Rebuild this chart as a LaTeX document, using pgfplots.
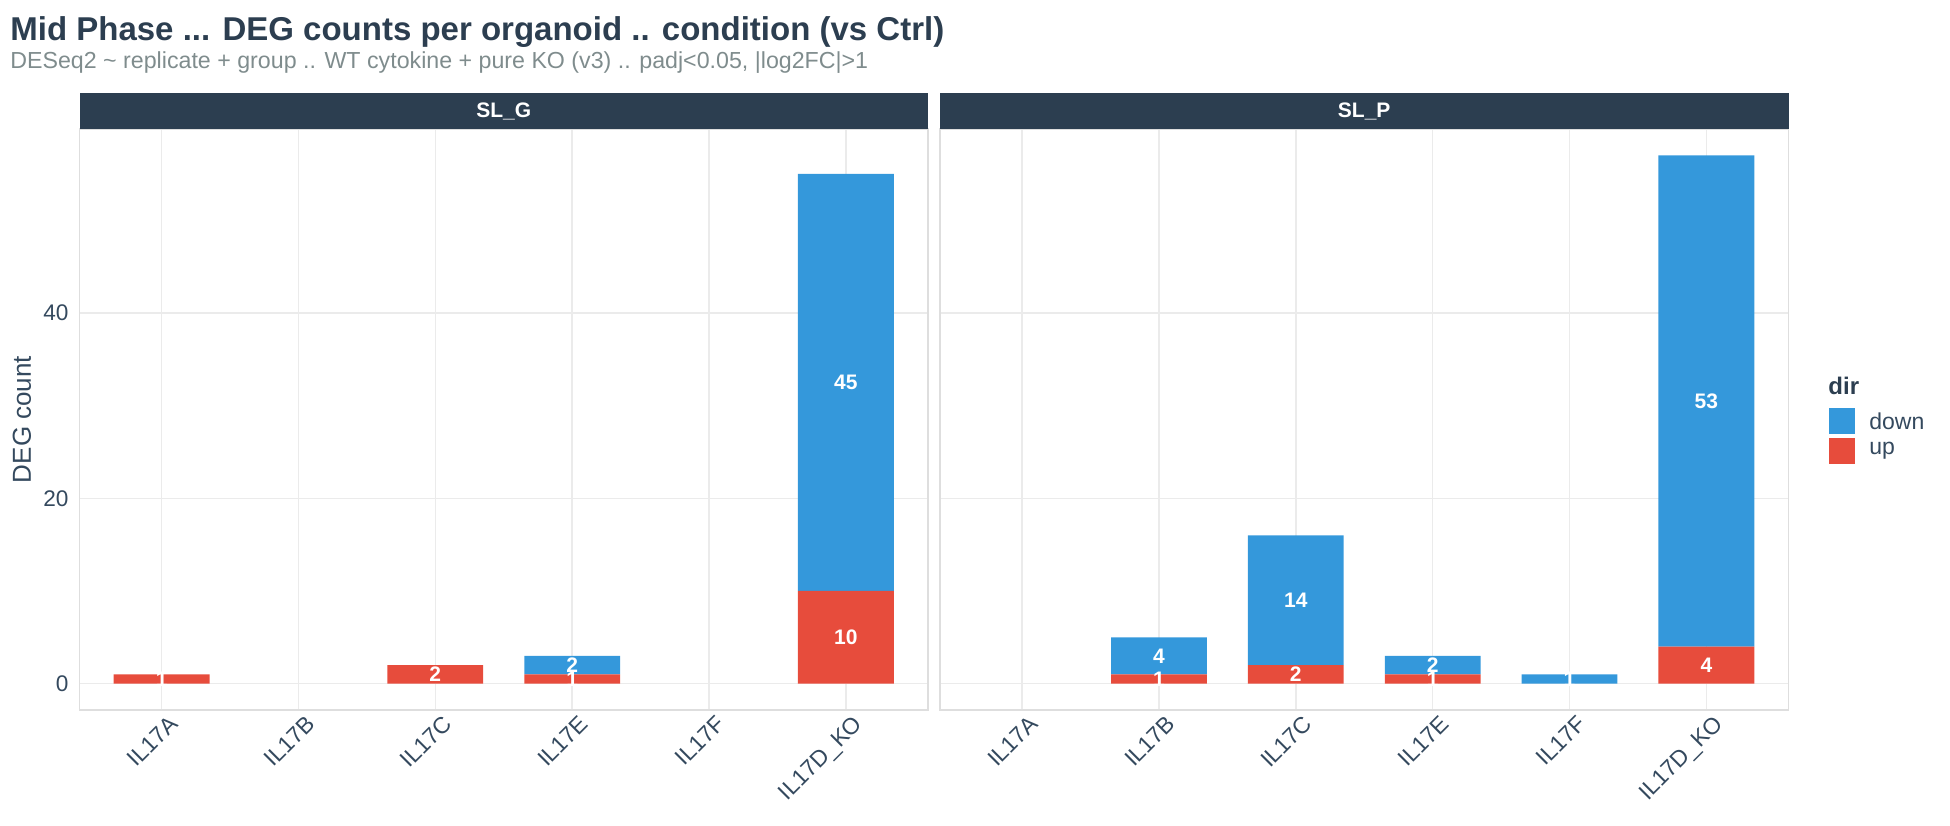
\documentclass[border=0pt]{standalone}
\usepackage{pgfplots}
\pgfplotsset{compat=1.18}
\usepackage{fontspec}
\setmainfont{Liberation Sans}
\definecolor{navy}{HTML}{2C3E50}
\definecolor{tickc}{HTML}{34495E}
\definecolor{ublue}{HTML}{3498DB}
\definecolor{ured}{HTML}{E74C3C}
\definecolor{subgray}{HTML}{7F8C8D}
\definecolor{gridc}{HTML}{EBEBEB}
\definecolor{borderc}{HTML}{DEDEDE}

\pgfplotstableread{
x up down
0 1 0
1 0 0
2 2 0
3 1 2
4 0 0
5 10 45
}\slg
\pgfplotstableread{
x up down
0 0 0
1 1 4
2 2 14
3 1 2
4 0 1
5 4 53
}\slp
\pgfplotstableread{
x y lab
0 0.5 1
2 1 2
3 0.5 1
3 2 2
5 5 10
5 32.5 45
}\slglab
\pgfplotstableread{
x y lab
1 0.5 1
1 3 4
2 1 2
2 9 14
3 0.5 1
3 2 2
4 0.5 1
5 2 4
5 30.5 53
}\slplab

\pgfplotsset{
  panel/.style={
    scale only axis, width=424.25pt, height=290.5pt,
    xmin=-0.6, xmax=5.6, ymin=-2.85, ymax=59.85,
    anchor=south west,
  },
  barpanel/.style={
    panel,
    ybar stacked, bar width=0.7,
    xtick={0,...,5}, xticklabels={IL17A,IL17B,IL17C,IL17E,IL17F,IL17D\_KO},
    ytick={0,20,40},
    grid=major, major grid style={draw=gridc, line width=0.7pt},
    axis line style={draw=borderc, line width=0.7pt},
    tick style={draw=none},
    xticklabel style={rotate=45, anchor=north east, font=\fontsize{11.5}{13}\selectfont, text=tickc, inner sep=1pt, yshift=-2.5pt, xshift=2pt},
    yticklabel style={font=\fontsize{11.3}{13}\selectfont, text=tickc, xshift=-2pt},
    /pgf/number format/assume math mode=true,
  },
  labpanel/.style={
    panel, hide axis, clip=false,
  },
}

\begin{document}
\begin{tikzpicture}
\useasboundingbox (0,0) rectangle (975pt,412.5pt);

% Title and subtitle
\node[anchor=base west, inner sep=0pt, text=navy, font=\fontsize{16.5}{19}\selectfont\bfseries] at (5pt,392pt) {Mid Phase ... DEG counts per organoid .. condition (vs Ctrl)};
\node[anchor=base west, inner sep=0pt, text=subgray, font=\fontsize{11.6}{14}\selectfont] at (5pt,378.2pt) {DESeq2 \textasciitilde{} replicate + group .. WT cytokine + pure KO (v3) .. padj<0.05, |log2FC|>1};

% Panel SL_G
\begin{axis}[barpanel, at={(39.75pt,57.5pt)}]
\addplot[fill=ured, draw=none] table[x=x, y=up] {\slg};
\addplot[fill=ublue, draw=none] table[x=x, y=down] {\slg};
\end{axis}
\begin{axis}[labpanel, at={(39.75pt,57.5pt)}]
\addplot[only marks, mark=none, nodes near coords, point meta=explicit symbolic,
  every node near coord/.style={anchor=center, text=white, font=\fontsize{10.5}{12}\selectfont\bfseries}]
  table[x=x, y=y, meta=lab] {\slglab};
\end{axis}

% Panel SL_P
\begin{axis}[barpanel, at={(470pt,57.5pt)}, yticklabels={}]
\addplot[fill=ured, draw=none] table[x=x, y=up] {\slp};
\addplot[fill=ublue, draw=none] table[x=x, y=down] {\slp};
\end{axis}
\begin{axis}[labpanel, at={(470pt,57.5pt)}]
\addplot[only marks, mark=none, nodes near coords, point meta=explicit symbolic,
  every node near coord/.style={anchor=center, text=white, font=\fontsize{10.5}{12}\selectfont\bfseries}]
  table[x=x, y=y, meta=lab] {\slplab};
\end{axis}

% Strips
\fill[navy] (39.75pt,348pt) rectangle (464pt,366pt);
\node[text=white, font=\fontsize{10.5}{12}\selectfont\bfseries] at (251.9pt,357pt) {SL\_G};
\fill[navy] (470pt,348pt) rectangle (894.25pt,366pt);
\node[text=white, font=\fontsize{10.5}{12}\selectfont\bfseries] at (682.1pt,357pt) {SL\_P};

% y label
\node[rotate=90, text=tickc, font=\fontsize{13}{15}\selectfont] at (11pt,202.75pt) {DEG count};

% Legend
\node[anchor=west, inner sep=0pt, text=navy, font=\fontsize{12}{14}\selectfont\bfseries] at (914pt,219.5pt) {dir};
\fill[ublue] (914.5pt,195.5pt) rectangle (927.5pt,208.5pt);
\fill[ured] (914.5pt,180.5pt) rectangle (927.5pt,193.5pt);
\node[anchor=west, inner sep=0pt, text=tickc, font=\fontsize{11.5}{14}\selectfont] at (934.5pt,202pt) {down};
\node[anchor=west, inner sep=0pt, text=tickc, font=\fontsize{11.5}{14}\selectfont] at (934.5pt,187pt) {up};
\end{tikzpicture}
\end{document}
